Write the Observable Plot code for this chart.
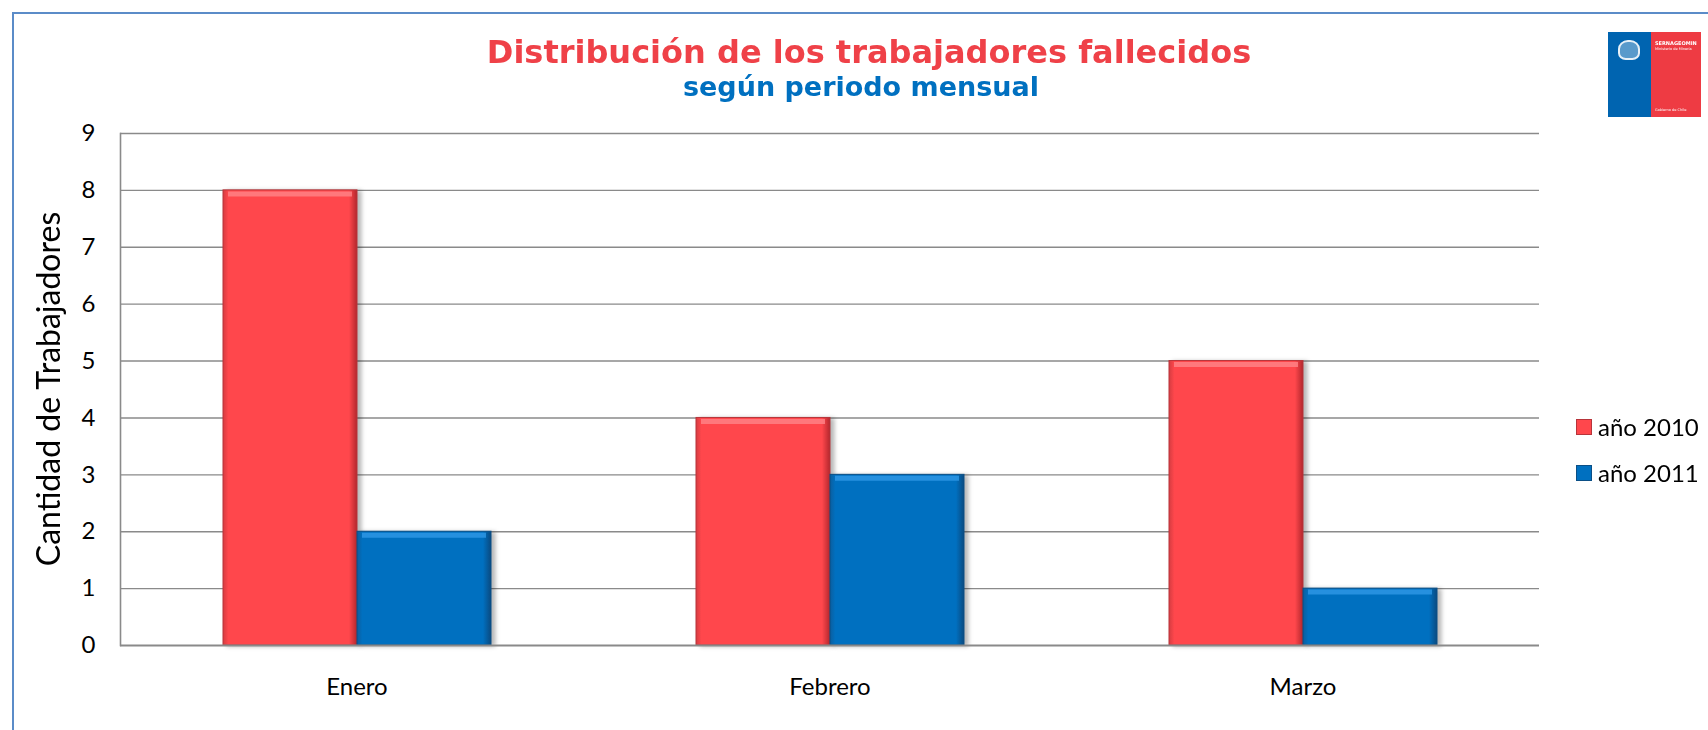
<!DOCTYPE html>
<html>
<head>
<meta charset="utf-8">
<script src="https://cdn.jsdelivr.net/npm/d3@7"></script>
<script src="https://cdn.jsdelivr.net/npm/@observablehq/plot@0.6"></script>
<style>
  html, body { margin: 0; padding: 0; background: #fff; }
  #wrap { position: relative; width: 1708px; height: 730px; overflow: hidden; background: #fff; font-family: Lato, sans-serif; }
  #border { position: absolute; left: 12px; top: 12px; width: 1800px; height: 800px; border-left: 2px solid #5b8cc8; border-top: 2px solid #5b8cc8; box-sizing: border-box; }
  #header { position: relative; height: 100px; }
  #title { position: absolute; left: 0; width: 1738px; top: 36px; text-align: center; font-family: "DejaVu Sans", sans-serif; font-weight: bold; font-size: 32px; line-height: 32px; color: #ef4148; white-space: nowrap; }
  #subtitle { position: absolute; left: 0; width: 1722px; top: 73px; text-align: center; font-family: "DejaVu Sans", sans-serif; font-weight: bold; font-size: 27px; line-height: 27px; color: #0070c0; white-space: nowrap; }
  #ylabel { position: absolute; left: 47px; top: 389px; transform: translate(-50%, -50%) rotate(-90deg); font-family: Lato, sans-serif; font-size: 32px; color: #000; white-space: nowrap; }
  .leg { position: absolute; left: 1576px; display: flex; align-items: center; font-family: Lato, sans-serif; font-size: 24px; line-height: 30px; height: 30px; color: #000; white-space: nowrap; }
  .sw { width: 16px; height: 16px; margin-right: 6px; box-sizing: border-box; }
  #logo { position: absolute; left: 1608px; top: 32px; width: 93px; height: 85px; }
  #logo .b { position: absolute; left: 0; top: 0; width: 43px; height: 85px; background: #0064b0; }
  #logo .r { position: absolute; left: 43px; top: 0; width: 50px; height: 85px; background: #ee3b43; color: #fff; font-family: "DejaVu Sans", sans-serif; }
  #logo .t1 { position: absolute; left: 4px; top: 8px; font-size: 5px; font-weight: bold; }
  #logo .t2 { position: absolute; left: 4px; top: 15px; font-size: 3.5px; }
  #logo .t3 { position: absolute; left: 4px; top: 76px; font-size: 3.5px; }
  #logo .crest { position: absolute; left: 10px; top: 8px; width: 22px; height: 20px; border-radius: 45% 45% 35% 35%; border: 2px solid rgba(255,255,255,0.85); box-sizing: border-box; background: rgba(255,255,255,0.35); }
  svg.chart { display: block; }
</style>
</head>
<body>
<div id="wrap">
  <div id="border"></div>
  <div id="header">
    <div id="title">Distribución de los trabajadores fallecidos</div>
    <div id="subtitle">según periodo mensual</div>
  </div>
  <div id="chart"></div>
  <div id="ylabel">Cantidad de Trabajadores</div>
  <div id="legend"></div>
  <div id="logo">
    <div class="b"><div class="crest"></div></div>
    <div class="r"><div class="t1">SERNAGEOMIN</div><div class="t2">Ministerio de Minería</div><div class="t3">Gobierno de Chile</div></div>
  </div>
</div>
<script>
// ---- data ----
const months = ["Enero", "Febrero", "Marzo"];
const series = ["año 2010", "año 2011"];
const values2010 = [8, 4, 5];
const values2011 = [2, 3, 1];
const yTicks = [0, 1, 2, 3, 4, 5, 6, 7, 8, 9];
const seriesColors = ["#ff474c", "#0070c0"];

const rows = [];
months.forEach((m, i) => {
  rows.push({month: m, series: series[0], value: values2010[i]});
  rows.push({month: m, series: series[1], value: values2011[i]});
});

const plot = Plot.plot({
  width: 1708,
  height: 630,
  marginTop: 33,
  marginBottom: 85,
  marginLeft: 120,
  marginRight: 169,
  style: {fontFamily: "Lato, sans-serif", fontSize: "24px", color: "#000", background: "transparent", overflow: "visible"},
  fx: {domain: months, padding: 0, label: null, axis: "bottom", tickSize: 0, tickPadding: 32},
  x: {domain: series, paddingInner: 0, paddingOuter: 0.76, axis: null},
  y: {domain: [0, 9], ticks: yTicks, label: null, tickSize: 0, tickPadding: 25, tickFormat: d => String(d)},
  marks: [
    Plot.ruleY(yTicks.filter(d => d > 0), {stroke: "#8a8a8a", strokeWidth: 1.4}),
    Plot.frame({anchor: "left", facetAnchor: "left", stroke: "#8a8a8a", strokeWidth: 1.6}),
    Plot.barY(rows, {fx: "month", x: "series", y: "value", filter: d => d.series === series[0], fill: "url(#gRed)", stroke: "#b7343a", strokeWidth: 1}),
    Plot.barY(rows, {fx: "month", x: "series", y: "value", filter: d => d.series === series[1], fill: "url(#gBlue)", stroke: "#0b4f86", strokeWidth: 1}),
    Plot.tickY(rows, {fx: "month", x: "series", y: "value", filter: d => d.series === series[0], stroke: "#ff8588", strokeOpacity: 0.8, strokeWidth: 5, dy: 3.5, insetLeft: 5, insetRight: 5}),
    Plot.tickY(rows, {fx: "month", x: "series", y: "value", filter: d => d.series === series[1], stroke: "#2f98e6", strokeOpacity: 0.8, strokeWidth: 5, dy: 3.5, insetLeft: 5, insetRight: 5}),
    Plot.ruleY([0], {stroke: "#8a8a8a", strokeWidth: 2.2})
  ]
});
plot.classList.add("chart");
document.getElementById("chart").appendChild(plot);

// gradients for the bevelled bar look
const defs = d3.select(plot).insert("defs", ":first-child");
function grad(id, edgeL, base, edgeR) {
  const g = defs.append("linearGradient").attr("id", id).attr("x1", 0).attr("x2", 1).attr("y1", 0).attr("y2", 0);
  g.append("stop").attr("offset", "0%").attr("stop-color", edgeL);
  g.append("stop").attr("offset", "4%").attr("stop-color", base);
  g.append("stop").attr("offset", "94%").attr("stop-color", base);
  g.append("stop").attr("offset", "100%").attr("stop-color", edgeR);
}
grad("gRed", "#d63c41", seriesColors[0], "#b3272d");
grad("gBlue", "#0c5e9e", seriesColors[1], "#0a4a80");
d3.select(plot).selectAll('g[aria-label="bar"]').style("filter", "drop-shadow(4px 1px 2px rgba(0,0,0,0.28))");

// legend
const legend = document.getElementById("legend");
const legCenters = [427, 473];
series.forEach((s, i) => {
  const item = document.createElement("div");
  item.className = "leg";
  item.style.top = (legCenters[i] - 15) + "px";
  const sw = document.createElement("div");
  sw.className = "sw";
  sw.style.background = seriesColors[i];
  sw.style.border = "1px solid " + (i === 0 ? "#b7343a" : "#0b4f86");
  const tx = document.createElement("span");
  tx.textContent = s;
  item.appendChild(sw);
  item.appendChild(tx);
  legend.appendChild(item);
});
</script>
</body>
</html>
